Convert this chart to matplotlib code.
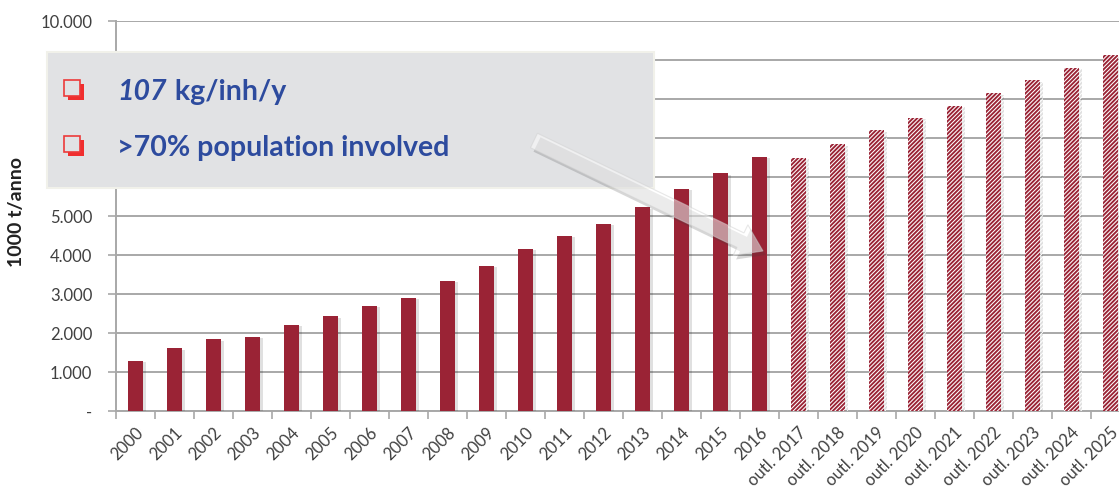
import matplotlib
matplotlib.use("Agg")
import matplotlib.pyplot as plt
from matplotlib.patches import Rectangle, Polygon
from matplotlib import patheffects as pe
from matplotlib.transforms import ScaledTranslation
import numpy as np

# ---- data -------------------------------------------------------------
years = ["2000", "2001", "2002", "2003", "2004", "2005", "2006", "2007",
         "2008", "2009", "2010", "2011", "2012", "2013", "2014", "2015",
         "2016", "outl. 2017", "outl. 2018", "outl. 2019", "outl. 2020",
         "outl. 2021", "outl. 2022", "outl. 2023", "outl. 2024", "outl. 2025"]
actual = [1290, 1610, 1840, 1900, 2210, 2430, 2690, 2900, 3340, 3720,
          4160, 4490, 4800, 5220, 5690, 6090, 6510]
outlook = [6490, 6840, 7200, 7510, 7820, 8150, 8480, 8800, 9130]
ytick_values = [0, 1000, 2000, 3000, 4000, 5000, 6000, 7000, 8000, 9000, 10000]
y_title = "1000 t/anno"
box_lines = [("107", " kg/inh/y"), ("", ">70% population involved")]

# ---- style ------------------------------------------------------------
W, H = 1119, 494
RED = "#9A2335"
GRID = "#A8A8A8"
TXT = "#404040"
BLUE = "#2D4B9E"
plt.rcParams["font.family"] = ["Lato", "DejaVu Sans"]
plt.rcParams["hatch.color"] = "white"
plt.rcParams["hatch.linewidth"] = 0.75

fig = plt.figure(figsize=(W / 100, H / 100), dpi=100)


def fx(px):
    return px / W


def fy(py):
    # image pixel row (from top) -> figure fraction
    return 1 - py / H


# plot area: runs past the right edge of the canvas
ax = fig.add_axes([fx(116), fy(411), fx(1130 - 116), (411 - 21) / H])

n = len(years)
x = np.arange(n)
bw = 0.41
shadow = [pe.SimplePatchShadow(offset=(2, -1), alpha=0.12, shadow_rgbFace="#000000"),
          pe.Normal()]

bars_a = ax.bar(x[:len(actual)], actual, width=bw, color=RED, zorder=3)
bars_o = ax.bar(x[len(actual):], outlook, width=bw, color=RED, hatch="////////",
                edgecolor="white", linewidth=0, zorder=3)
for b in list(bars_a) + list(bars_o):
    b.set_path_effects(shadow)

ax.set_xlim(-0.5, n - 0.5)
ax.set_ylim(0, 10000)

ax.set_yticks(ytick_values)
ax.set_yticklabels(["-" if v == 0 else f"{v:,}".replace(",", ".") for v in ytick_values],
                   fontsize=12, color=TXT)
ax.yaxis.grid(True, color=GRID, linewidth=1.4, zorder=0)
ax.set_axisbelow(True)
ax.tick_params(axis="y", length=6, width=1.2, color=GRID, pad=11)

ax.set_xticks(x)
ax.set_xticklabels(years, rotation=45, ha="right", va="top",
                   rotation_mode="anchor", fontsize=12, color=TXT)
shift = ScaledTranslation(-9 / 100, 0, fig.dpi_scale_trans)
for lab in ax.get_xticklabels():
    lab.set_transform(lab.get_transform() + shift)
ax.tick_params(axis="x", which="major", length=0, pad=10)
ax.set_xticks(np.arange(n + 1) - 0.5, minor=True)
ax.tick_params(axis="x", which="minor", length=6, width=1.2, color=GRID)

for s in ("top", "right"):
    ax.spines[s].set_visible(False)
for s in ("left", "bottom"):
    ax.spines[s].set_color(GRID)
    ax.spines[s].set_linewidth(1.4)

fig.text(fx(17), fy(212), y_title, rotation=90, ha="center", va="center",
         fontsize=14, fontweight="bold", color="#222222")

# ---- callout box --------------------------------------------------------
bx0, by0, bx1, by1 = 47, 52, 654, 188
fig.patches.append(Rectangle((fx(bx0), fy(by1)), fx(bx1 - bx0), (by1 - by0) / H,
                             transform=fig.transFigure, facecolor="#E1E2E4",
                             edgecolor="#F1F1EA", linewidth=1.5, zorder=5))

line_y = [92, 148]
for (num, rest), ly in zip(box_lines, line_y):
    # shadowed square bullet
    sx, sy, ss = 64, ly - 12, 16
    fig.patches.append(Rectangle((fx(sx + 4), fy(sy + ss + 4)), fx(ss), ss / H,
                                 transform=fig.transFigure, facecolor="#F02E2E",
                                 edgecolor="none", zorder=6))
    fig.patches.append(Rectangle((fx(sx), fy(sy + ss)), fx(ss), ss / H,
                                 transform=fig.transFigure, facecolor="#E1E2E4",
                                 edgecolor="#EC3A3A", linewidth=1.2, zorder=7))
    tx = 117
    if num:
        t = fig.text(fx(tx), fy(ly), num, fontsize=20.5, fontweight="bold",
                     fontstyle="italic", color=BLUE, va="center", ha="left", zorder=8)
        fig.canvas.draw()
        bb = t.get_window_extent()
        tx = bb.x1 + 1
    fig.text(fx(tx), fy(ly), rest, fontsize=20.5, fontweight="bold", color=BLUE,
             va="center", ha="left", zorder=8)

# ---- arrow ------------------------------------------------------------
tail = np.array([534.0, 140.5])
tip = np.array([763.0, 251.0])
u = (tip - tail) / np.linalg.norm(tip - tail)
nv = np.array([-u[1], u[0]])
hw, hl, hh = 8.0, 25.0, 17.0
base = tip - u * hl
pts = [tail - nv * hw, base - nv * hw, base - nv * hh, tip,
       base + nv * hh, base + nv * hw, tail + nv * hw]
disp = [(p[0], H - p[1]) for p in pts]
shadow_pts = [(p[0] + 3, H - p[1] - 4) for p in pts]
fig.patches.append(Polygon(shadow_pts, closed=True, transform=None,
                           facecolor="#3a3a3a", alpha=0.2, edgecolor="none", zorder=9))
fig.patches.append(Polygon(disp, closed=True, transform=None,
                           facecolor="white", alpha=0.5, edgecolor="#d0d0d0",
                           linewidth=0.8, zorder=10))

fig.savefig("out.png", dpi=100)
